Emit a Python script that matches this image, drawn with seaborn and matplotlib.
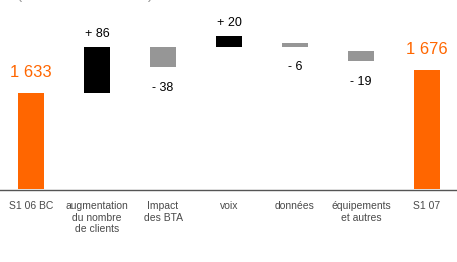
import numpy as np
import seaborn as sns
import matplotlib.pyplot as plt

# waterfall, S1 06 BC -> S1 07 (en millions d'euros)
categories = ["S1 06 BC", "augmentation\ndu nombre\nde clients", "Impact\ndes BTA",
              "voix", "données", "équipements\net autres", "S1 07"]
values = [1633, 86, -38, 20, -6, -19, 1676]
# level each step bar starts from, as drawn in the source (totals start at the axis)
starts = [None, 1633, 1719, 1719, 1725, 1711, None]
labels = ["1 633", "+ 86", "- 38", "+ 20", "- 6", "- 19", "1 676"]
kinds = ["total", "up", "down", "up", "down", "down", "total"]

y_floor = 1452   # axis is cut, bars start here
colors = {"total": "#FF6600", "up": "#000000", "down": "#969696"}

sns.set_style("white")
plt.rcParams['font.family'] = ['Liberation Sans', 'DejaVu Sans']

bottoms = np.array([y_floor if s is None else s for s in starts], dtype=float)
heights = np.array([v - y_floor if s is None else v for s, v in zip(starts, values)], dtype=float)

fig = plt.figure(figsize=(4.57, 2.62), dpi=100)
ax = fig.add_axes([0, 72.5/262, 1, 189.5/262])

sns.barplot(x=categories, y=heights, bottom=bottoms, width=0.39, color="#000000",
            errorbar=None, saturation=1, linewidth=0, ax=ax)
for p, k in zip(ax.patches, kinds):
    p.set_facecolor(colors[k])

# value labels
for i, (lab, k) in enumerate(zip(labels, kinds)):
    top = bottoms[i] + max(heights[i], 0)
    low = bottoms[i] + min(heights[i], 0)
    if k == "total":
        ax.annotate(lab, (i, top), xytext=(0, 11.5), textcoords="offset points",
                    ha="center", va="baseline", color="#FF6600", fontsize=12)
    elif k == "up":
        ax.annotate(lab, (i, top), xytext=(0, 7), textcoords="offset points",
                    ha="center", va="baseline", color="#000000", fontsize=9)
    else:
        ax.annotate(lab, (i, low), xytext=(0, -10.5), textcoords="offset points",
                    ha="center", va="top", color="#000000", fontsize=9)

ax.set_ylim(y_floor, y_floor + 189.5/0.535)
ax.set_xlim(-0.47, 6.455)
sns.despine(ax=ax, left=True, top=True, right=True)
ax.spines["bottom"].set_color("#555555")
ax.spines["bottom"].set_linewidth(1)
ax.set_yticks([])
ax.set_xticks(range(len(categories)))
ax.set_xticklabels(categories, fontsize=7.5, color="#4a4a4a", linespacing=1.15)
ax.set_xticks(np.arange(0.5, len(categories) - 1), minor=True)
ax.tick_params(axis="x", which="major", length=0, pad=8.5)
ax.tick_params(axis="x", which="minor", length=3, width=1, color="#555555", direction="out")

# unit line, cut off at the top of the picture
fig.text(0.037, 1 + 1.5/262, "(en millions d'euros)", va="baseline", ha="left",
         color="#999999", fontsize=11)

fig.savefig("out.png", dpi=100)
